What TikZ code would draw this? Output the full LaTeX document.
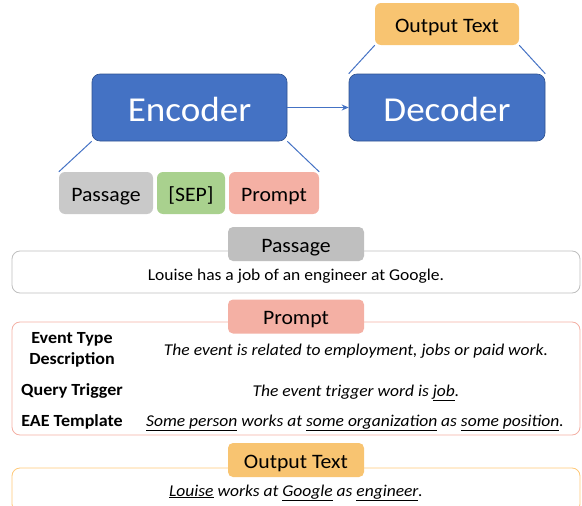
\documentclass[tikz,border=0pt]{standalone}
\usepackage{fontspec}
\setmainfont[FakeStretch=1.06]{Carlito}
\usepackage{tikz}
\usetikzlibrary{arrows.meta,positioning}

\definecolor{encblue}{HTML}{4472C4}
\definecolor{encedge}{HTML}{2F528F}
\definecolor{outorange}{HTML}{F8C471}
\definecolor{outedge}{HTML}{FFC978}
\definecolor{sepgreen}{HTML}{A9D18E}
\definecolor{promptred}{HTML}{F4B0A4}
\definecolor{passgray}{HTML}{C9C9C9}
\definecolor{panelgray}{HTML}{BFBFBF}

\newcommand{\ul}[1]{\underline{#1}}

\begin{document}
\begin{tikzpicture}[x=1pt, y=-1pt,
    block/.style={rectangle, rounded corners=8pt, draw=encedge, fill=encblue, line width=0.6pt, text=white, font=\fontsize{35}{36}\selectfont, minimum width=195pt, minimum height=67pt, inner sep=0pt, text height=33pt, text depth=5pt},
    token/.style={rectangle, rounded corners=6pt, minimum height=42pt, inner sep=0pt, font=\fontsize{20.5}{22}\selectfont, text height=19.5pt, text depth=3pt},
    panel/.style={rectangle, rounded corners=8pt, fill=white, line width=0.8pt, minimum width=568pt, inner sep=0pt},
    header/.style={rectangle, rounded corners=5pt, minimum width=136pt, minimum height=34pt, inner sep=0pt, font=\fontsize{20.5}{22}\selectfont, text height=19.5pt, text depth=3pt},
    rowname/.style={anchor=base, font=\fontsize{17}{21}\selectfont\bfseries, align=center, inner sep=0pt},
    rowtext/.style={anchor=base, font=\fontsize{16.5}{20}\selectfont\itshape, inner sep=0pt},
    link/.style={encblue, line width=1pt}
]
\useasboundingbox (0,0) rectangle (582,506);

% Modele
\node[block] (enc) at (189.5, 107.5) {Encoder};
\node[block, minimum width=196pt] (dec) at (447, 107.5) {Decoder};
\node[token, fill=outorange, minimum width=144pt] (outtop) at (447, 24) {Output Text};
\node[token, fill=passgray, minimum width=94pt] (passtop) at (106, 193) {Passage};
\node[token, fill=sepgreen, minimum width=68pt] (sep) at (191, 193) {[SEP]};
\node[token, fill=promptred, minimum width=90pt] (prompttop) at (274, 193) {Prompt};

\draw[link, -{Stealth[length=7pt, width=6pt]}] (enc) -- (dec);
\draw[link] (enc.south west) -- (passtop.north west);
\draw[link] (enc.south east) -- (prompttop.north east);
\draw[link] (dec.north west) -- (outtop.south west);
\draw[link] (dec.north east) -- (outtop.south east);

% Passage
\node[panel, draw=panelgray, minimum height=42pt] (passbox) at (296, 272) {};
\node[header, fill=panelgray] (passhead) at (296, 244) {Passage};
\node[rowtext, font=\fontsize{16.5}{20}\selectfont] (passtext) at (296, 280) {Louise has a job of an engineer at Google.};

% Prompt
\node[panel, draw=promptred, minimum height=113pt] (promptbox) at (296, 378.5) {};
\node[header, fill=promptred] (prompthead) at (296, 316.5) {Prompt};
\node[rowname] (typename) at (72, 364) {Event Type\\Description};
\node[rowname] (trigname) at (72, 395) {Query Trigger};
\node[rowname] (eaename) at (72, 426) {EAE Template};
\node[rowtext] (typetext) at (356, 355) {The event is related to employment, jobs or paid work.};
\node[rowtext] (trigtext) at (356, 396) {The event trigger word is \ul{job}.};
\node[rowtext] (eaetext) at (355, 426) {\ul{Some person} works at \ul{some organization} as \ul{some position}.};

% Sortie
\node[panel, draw=outedge, minimum height=44pt] (outbox) at (296, 490) {};
\node[header, fill=outorange] (outhead) at (296, 460) {Output Text};
\node[rowtext] (outtext) at (296, 496) {\ul{Louise} works at \ul{Google} as \ul{engineer}.};

\end{tikzpicture}
\end{document}
